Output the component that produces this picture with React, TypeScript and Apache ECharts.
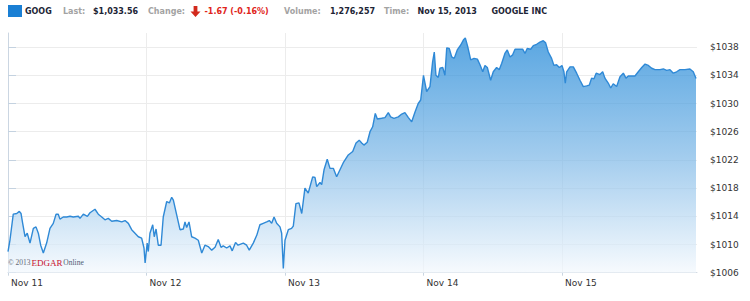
import React, { useEffect, useRef } from "react";
import * as echarts from "echarts";

const dayLabels = ["Nov 11", "Nov 12", "Nov 13", "Nov 14", "Nov 15"];
const yTicks = [1006, 1010, 1014, 1018, 1022, 1026, 1030, 1034, 1038];

// [fraction of the trading day, price]
const nov11: [number, number][] = [
  [0, 1009.0], [0.014, 1010.6], [0.038, 1014.3], [0.063, 1014.4], [0.082, 1014.7], [0.094, 1014.4],
  [0.106, 1013.0], [0.123, 1011.1], [0.139, 1011.6], [0.159, 1010.2], [0.183, 1012.3], [0.202, 1012.5],
  [0.219, 1011.6], [0.236, 1009.9], [0.255, 1008.8], [0.279, 1010.2], [0.303, 1012.3], [0.327, 1013.0],
  [0.347, 1014.3], [0.363, 1014.3], [0.375, 1013.6], [0.399, 1013.9], [0.424, 1013.9], [0.448, 1014.0],
  [0.471, 1013.9], [0.508, 1014.0], [0.52, 1013.7], [0.544, 1014.3], [0.573, 1014.0], [0.592, 1014.5],
  [0.628, 1015.0], [0.652, 1014.3], [0.677, 1013.9], [0.7, 1013.5], [0.724, 1013.7], [0.749, 1013.3],
  [0.785, 1013.4], [0.821, 1013.2], [0.845, 1013.4], [0.869, 1013.0], [0.893, 1012.1], [0.917, 1011.6],
  [0.941, 1011.1], [0.965, 1010.9], [0.982, 1009.5], [0.99, 1007.4],
];
const nov12: [number, number][] = [
  [0.005, 1010.2], [0.013, 1009.0], [0.025, 1011.6], [0.045, 1012.8], [0.056, 1011.1], [0.069, 1012.2],
  [0.085, 1009.9], [0.105, 1009.9], [0.121, 1013.9], [0.146, 1016.1], [0.165, 1015.9], [0.182, 1016.7],
  [0.194, 1016.3], [0.218, 1014.2], [0.242, 1012.1], [0.266, 1012.2], [0.278, 1013.2], [0.29, 1012.4],
  [0.307, 1013.2], [0.326, 1011.1], [0.35, 1010.9], [0.374, 1010.6], [0.399, 1008.8], [0.422, 1009.9],
  [0.446, 1009.7], [0.471, 1009.2], [0.495, 1009.6], [0.518, 1010.7], [0.538, 1009.6], [0.554, 1009.8],
  [0.579, 1009.5], [0.603, 1009.8], [0.619, 1009.1], [0.643, 1010.3], [0.661, 1009.9], [0.699, 1010.2],
  [0.723, 1009.9], [0.742, 1009.2], [0.771, 1010.2], [0.796, 1011.3], [0.819, 1012.8], [0.843, 1013.0],
  [0.868, 1013.2], [0.887, 1013.4], [0.904, 1013.0], [0.921, 1013.9], [0.94, 1013.0], [0.964, 1012.5],
  [0.976, 1011.6], [0.988, 1006.6],
];
const nov13: [number, number][] = [
  [0.0, 1010.6], [0.024, 1012.1], [0.048, 1012.3], [0.06, 1012.6], [0.079, 1015.8], [0.101, 1015.9],
  [0.121, 1014.4], [0.144, 1018.0], [0.168, 1017.3], [0.2, 1019.6], [0.217, 1019.5], [0.229, 1018.2],
  [0.253, 1018.8], [0.265, 1018.5], [0.282, 1020.6], [0.305, 1022.1], [0.325, 1020.8], [0.349, 1020.8],
  [0.373, 1019.6], [0.397, 1020.6], [0.421, 1021.6], [0.457, 1022.7], [0.489, 1023.2], [0.513, 1024.4],
  [0.536, 1024.8], [0.554, 1024.4], [0.57, 1024.1], [0.594, 1024.5], [0.614, 1026.0], [0.633, 1026.7],
  [0.652, 1028.6], [0.667, 1027.8], [0.698, 1027.9], [0.722, 1028.0], [0.746, 1028.7], [0.763, 1028.1],
  [0.787, 1027.9], [0.818, 1028.1], [0.843, 1028.5], [0.866, 1028.7], [0.891, 1028.0], [0.915, 1027.4],
  [0.939, 1028.8], [0.962, 1030.0], [0.98, 1030.5],
];
const nov14: [number, number][] = [
  [0.0, 1034.0], [0.023, 1031.7], [0.047, 1032.4], [0.066, 1035.9], [0.078, 1037.3], [0.09, 1034.0],
  [0.107, 1033.7], [0.119, 1035.0], [0.139, 1035.1], [0.155, 1034.0], [0.168, 1037.9], [0.186, 1037.8],
  [0.204, 1036.6], [0.222, 1036.4], [0.244, 1037.6], [0.269, 1038.3], [0.288, 1039.0], [0.302, 1039.3],
  [0.319, 1038.1], [0.341, 1036.2], [0.365, 1036.4], [0.389, 1036.3], [0.408, 1035.5], [0.428, 1034.5],
  [0.444, 1035.4], [0.461, 1035.1], [0.485, 1033.3], [0.504, 1034.5], [0.528, 1035.1], [0.547, 1034.8],
  [0.565, 1035.7], [0.588, 1037.1], [0.605, 1037.6], [0.625, 1036.6], [0.644, 1036.9], [0.661, 1037.7],
  [0.692, 1037.7], [0.716, 1037.7], [0.733, 1037.1], [0.749, 1037.8], [0.774, 1037.7], [0.793, 1038.2],
  [0.817, 1038.4], [0.841, 1038.7], [0.865, 1038.9], [0.882, 1038.6], [0.901, 1037.3], [0.925, 1036.4],
  [0.942, 1035.4], [0.961, 1035.5], [0.981, 1035.1],
];
const nov15: [number, number][] = [
  [0.0, 1035.4], [0.014, 1034.5], [0.024, 1032.9], [0.034, 1034.5], [0.058, 1035.2], [0.082, 1035.2],
  [0.106, 1034.3], [0.13, 1033.3], [0.154, 1032.4], [0.178, 1032.5], [0.197, 1032.6], [0.214, 1033.6],
  [0.231, 1033.5], [0.247, 1034.3], [0.274, 1034.1], [0.294, 1034.5], [0.31, 1033.6], [0.334, 1032.9],
  [0.352, 1032.2], [0.37, 1032.8], [0.395, 1032.4], [0.419, 1033.8], [0.443, 1034.3], [0.462, 1033.6],
  [0.479, 1033.9], [0.504, 1033.9], [0.527, 1033.9], [0.551, 1034.5], [0.576, 1035.1], [0.6, 1035.6],
  [0.624, 1035.4], [0.648, 1035.0], [0.672, 1034.8], [0.708, 1034.8], [0.732, 1034.9], [0.756, 1034.7],
  [0.78, 1034.8], [0.804, 1034.3], [0.828, 1034.5], [0.852, 1034.8], [0.888, 1034.8], [0.924, 1034.9],
  [0.948, 1034.5], [0.968, 1033.56],
];

const days = [nov11, nov12, nov13, nov14, nov15];

export default function App() {
  const ref = useRef<HTMLDivElement>(null);
  useEffect(() => {
    if (!ref.current) return;
    const chart = echarts.init(ref.current, null, { renderer: "svg" });
    const data: [number, number][] = [];
    days.forEach((arr, i) => arr.forEach(([f, p]) => data.push([i + f, p])));

    const hdrFont = 'bold 8px "DejaVu Sans"';
    const dark = "#1d2536";
    const gray = "#a3a3a3";
    const hText = (text: string, x: number, fill: string) => ({
      type: "text",
      x,
      y: 11.5,
      silent: true,
      style: { text, fill, font: hdrFont, textVerticalAlign: "middle", verticalAlign: "middle" },
    });
    const cText = (text: string, x: number, fill: string, size: number) => ({
      type: "text",
      x,
      y: 262.5,
      z: 100,
      silent: true,
      style: {
        text,
        fill,
        font: `${size}px "Liberation Serif"`,
        textVerticalAlign: "middle",
        verticalAlign: "middle",
      },
    });

    chart.setOption({
      animation: false,
      backgroundColor: "#ffffff",
      grid: { left: 8, right: 53, top: 33, bottom: 28.3 },
      xAxis: {
        type: "value",
        min: 0,
        max: 4.975,
        interval: 1,
        axisLine: { show: true, lineStyle: { color: "#d3dbe4", width: 1 } },
        axisTick: { show: true, length: 3, lineStyle: { color: "#c9d5e1" } },
        axisLabel: {
          formatter: (v: number) => (Number.isInteger(v) && dayLabels[v] ? dayLabels[v] : ""),
          align: "left",
          padding: [0, 0, 0, 3],
          margin: 6,
          color: "#333",
          fontSize: 9,
          fontFamily: "DejaVu Sans",
          showMaxLabel: false,
        },
        splitLine: { show: true, showMinLine: false, showMaxLine: false, lineStyle: { color: "#ececec" } },
      },
      yAxis: {
        type: "value",
        position: "right",
        min: 1006,
        max: 1040,
        interval: 4,
        axisLine: { show: true, lineStyle: { color: "#cbd6e2" } },
        axisTick: { show: true, length: 8, lineStyle: { color: "#c4d2e0" }, customValues: yTicks },
        axisLabel: {
          customValues: yTicks,
          formatter: (v: number) => "$" + v,
          margin: 13,
          color: "#333",
          fontSize: 9,
          fontFamily: "DejaVu Sans",
        },
        splitLine: { show: true, showMinLine: false, lineStyle: { color: "#ececec" } },
      },
      series: [
        {
          type: "line",
          data,
          showSymbol: false,
          smooth: false,
          lineStyle: { color: "#2f89d6", width: 1.4 },
          areaStyle: {
            color: new echarts.graphic.LinearGradient(0, 0, 0, 1, [
              { offset: 0, color: "#1481d5" },
              { offset: 0.5, color: "#7ab6e6" },
              { offset: 1, color: "#f3f8fd" },
            ]),
          },
        },
      ],
      graphic: [
        { type: "rect", shape: { x: 8, y: 5, width: 14, height: 12 }, style: { fill: "#1a7fd4" }, silent: true },
        hText("GOOG", 25, dark),
        hText("Last:", 63, gray),
        hText("$1,033.56", 93, dark),
        hText("Change:", 148, gray),
        {
          type: "polygon",
          silent: true,
          shape: {
            points: [
              [193.6, 6], [197.4, 6], [197.4, 11.5], [200.5, 11.5], [195.5, 17], [190.5, 11.5], [193.6, 11.5],
            ],
          },
          style: { fill: "#d2291c" },
        },
        hText("-1.67 (-0.16%)", 204.5, "#e0251b"),
        hText("Volume:", 284, gray),
        hText("1,276,257", 330, dark),
        hText("Time:", 384, gray),
        hText("Nov 15, 2013", 417.5, dark),
        hText("GOOGLE INC", 491.5, dark),
        cText("\u00a9 2013", 8, "#666a75", 7.5),
        cText("EDGAR", 31.5, "#c8102e", 9),
        cText("Online", 63.3, "#4f5a72", 7.5),
      ],
    });
    return () => chart.dispose();
  }, []);
  return (
    <div
      ref={ref}
      style={{ position: "fixed", left: 0, top: 0, width: 750, height: 301, background: "#fff" }}
    />
  );
}
